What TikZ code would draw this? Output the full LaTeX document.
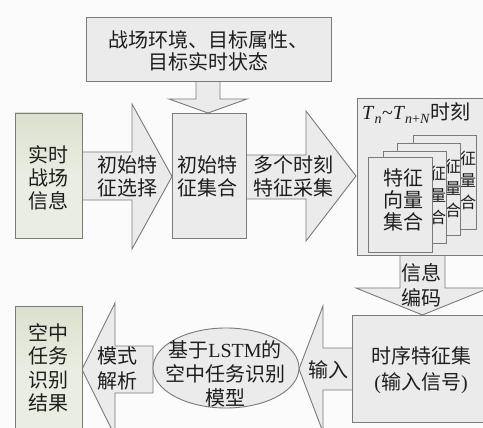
\documentclass[tikz,border=0pt]{standalone}
\usepackage{fontspec}
\setmainfont{Liberation Serif}
\newfontfamily\cjk{Noto Sans CJK SC}
\usetikzlibrary{shapes.geometric}
\definecolor{boxgray}{HTML}{EBEBEB}
\definecolor{edgegray}{HTML}{7A7A7A}
\definecolor{greentop}{HTML}{DBE1CE}
\definecolor{greenbot}{HTML}{E9EDE2}
\definecolor{bgcol}{HTML}{FBFBFB}
\definecolor{inkcol}{HTML}{1E1E1E}
\tikzset{
  blk/.style={draw=edgegray, fill=boxgray, line width=0.9pt, line join=miter},
  grn/.style={draw=edgegray, top color=greentop, bottom color=greenbot, middle color=greenbot, line width=0.9pt},
  txt/.style={font=\cjk\fontsize{20}{23}\selectfont, align=center, inner sep=0pt, text=inkcol},
  frag/.style={font=\cjk\fontsize{16}{22}\selectfont, align=center, inner sep=0pt, text=inkcol},
  cardbox/.style={draw=edgegray, fill=boxgray, line width=0.9pt},
}
\begin{document}
\begin{tikzpicture}[x=1pt,y=-1pt]
\useasboundingbox (0,0) rectangle (483,428);
\fill[bgcol] (0,0) rectangle (483,428);
\clip (0,0) rectangle (483,428);

% ---- block arrows (drawn first, boxes on top) ----
\draw[blk] (196,80) -- (196,99) -- (169,99) -- (208,113) -- (247,99) -- (220,99) -- (220,80);
\draw[blk] (80,152) -- (132,152) -- (132,104) -- (172,176.5) -- (132,249) -- (132,200) -- (80,200);
\draw[blk] (244,155) -- (306,155) -- (306,111) -- (356,176) -- (306,241) -- (306,199) -- (244,199);
\draw[blk] (400,253) -- (400,288) -- (356,288) -- (422.5,315) -- (489,288) -- (445,288) -- (445,253);
\draw[blk] (354,348) -- (323,348) -- (323,306) -- (299,369) -- (323,432) -- (323,390) -- (354,390);
\draw[blk] (153,346) -- (115,346) -- (115,303) -- (82,369.5) -- (115,436) -- (115,393) -- (153,393) -- cycle;

% ---- boxes ----
\node[blk, minimum width=245pt, minimum height=64pt, inner sep=0pt] (env) at (208.5,49) {};
\node[txt, font=\cjk\fontsize{20}{22}\selectfont] (envtext) at (208.5,51) {战场环境、目标属性、\\目标实时状态};

\node[grn, minimum width=67pt, minimum height=125pt, inner sep=0pt] (rt) at (48.5,175.5) {};
\node[txt] (rttext) at (48.5,178) {实时\\战场\\信息};

\node[blk, minimum width=74pt, minimum height=125pt, inner sep=0pt] (init) at (209,175.5) {};
\node[txt] (inittext) at (207,176) {初始特\\征集合};

\node[txt] (sel) at (127,176) {初始特\\征选择};
\node[txt] (col) at (293,176) {多个时刻\\特征采集};

% big box
\node[blk, minimum width=140pt, minimum height=157pt, inner sep=0pt, anchor=north west] (big) at (357,98) {};
\node[txt, font=\rmfamily\fontsize{20}{23}\selectfont, anchor=west] (tlabel) at (362,113)
  {\textit{T}\textsubscript{\textit{n}}\textasciitilde\textit{T}\textsubscript{\textit{n}+\textit{N}}{\cjk 时刻}};

% cards back to front (back cards show only clipped fragments of their text)
\draw[cardbox] (413,135) rectangle (476,229);
\begin{scope}
  \clip (460.5,136) rectangle (475.5,228);
  \node[frag] (c4) at (468,180) {征\\量\\合};
\end{scope}
\draw[cardbox] (397,143) rectangle (460,235);
\begin{scope}
  \clip (446.5,144) rectangle (459.5,234);
  \node[frag] (c3) at (453,188) {征\\量\\合};
\end{scope}
\draw[cardbox] (383,151) rectangle (446,243);
\begin{scope}
  \clip (432.5,152) rectangle (445.5,242);
  \node[frag] (c2) at (438,195) {征\\量\\合};
\end{scope}
\draw[cardbox] (368,157) rectangle (432,252);
\node[txt, font=\cjk\fontsize{20}{22}\selectfont] (c1) at (403,200) {特征\\向量\\集合};

\node[txt, font=\cjk\fontsize{20}{25}\selectfont] (code) at (421,285) {信息\\编码};

% time-series box
\node[blk, minimum width=140pt, minimum height=107pt, inner sep=0pt, anchor=north west] (ts) at (352,315) {};
\node[txt, font=\cjk\fontsize{20}{26}\selectfont] (tstext) at (421,370) {时序特征集\\{\rmfamily(}输入信号{\rmfamily)}};

\node[txt] (inp) at (328,370) {输入};

% ellipse model
\node[draw=edgegray, fill=boxgray, line width=0.9pt, ellipse, minimum width=146pt, minimum height=80pt, inner sep=0pt] (model) at (226,368) {};
\node[txt, font=\cjk\fontsize{20}{24}\selectfont] (modeltext) at (225,374) {基于{\rmfamily LSTM}的\\空中任务识别\\模型};

\node[txt, font=\cjk\fontsize{20}{25}\selectfont] (parse) at (117,368) {模式\\解析};

% result box
\node[grn, minimum width=67pt, minimum height=130pt, inner sep=0pt, anchor=north] (res) at (48.5,306) {};
\node[txt, font=\cjk\fontsize{20}{23.5}\selectfont] (restext) at (48.5,368) {空中\\任务\\识别\\结果};
\end{tikzpicture}
\end{document}
